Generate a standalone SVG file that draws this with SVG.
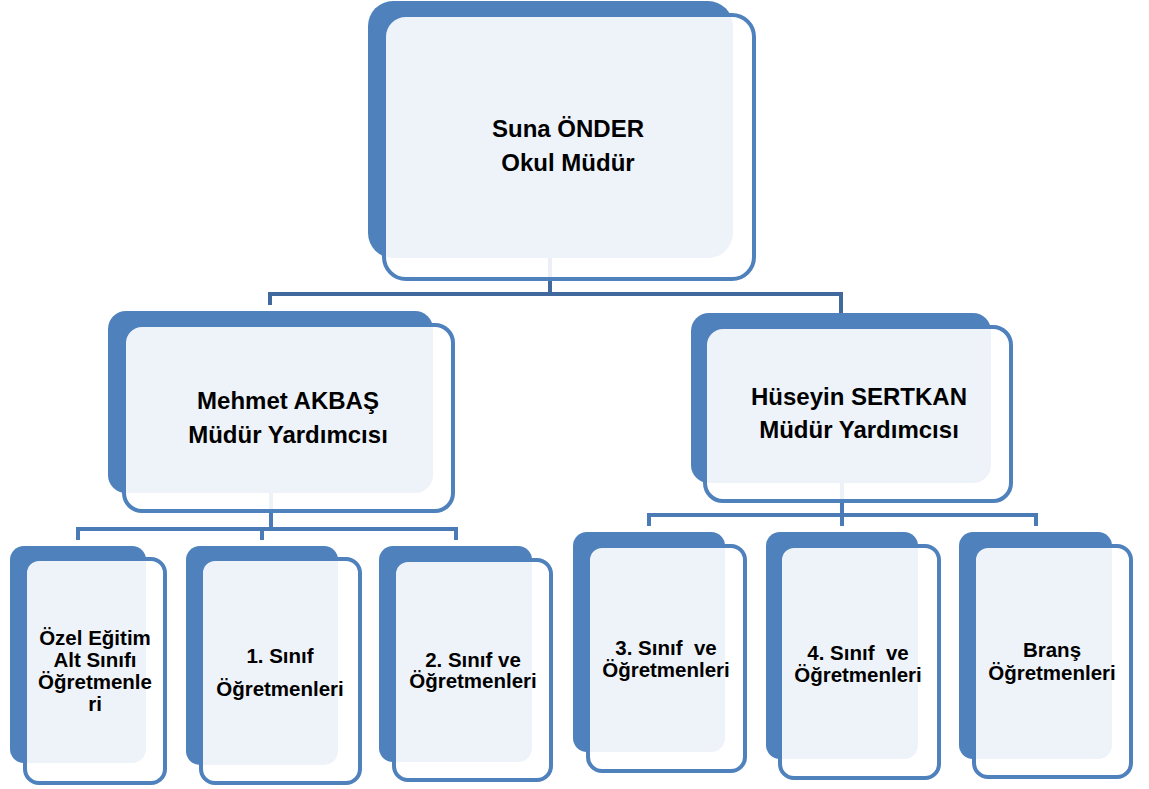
<svg xmlns="http://www.w3.org/2000/svg" width="1149" height="789" viewBox="0 0 1149 789">
<style>
.back{fill:#4F81BD}
.front{fill:#FFFFFF;fill-opacity:0.9;stroke:#4F81BD;stroke-width:4}
.c1{fill:none;stroke:#41699E;stroke-width:4}
.c2{fill:none;stroke:#4A7BB7;stroke-width:4}
text{font-family:"Liberation Sans",Arial,sans-serif;font-weight:bold;fill:#000;text-anchor:middle}
.big{font-size:24px}
.sm{font-size:20.5px}
</style>
<rect width="1149" height="789" fill="#FFFFFF"/>
<g id="connectors">
<path class="c1" d="M550,258 V294 M270,305 V294 H841 V313"/>
<path class="c2" d="M271,493 V529 M78,540 V529 H456 V540 M262,529 V540"/>
<path class="c2" d="M842,483 V515 M649,526 V515 H1036 V526 M842,515 V526"/>
</g>
<g id="n-suna">
<rect class="back" x="368" y="1" width="365" height="257" rx="25"/>
<rect class="front" x="384" y="15" width="370" height="264" rx="22"/>
<text class="big" x="568" y="137">Suna ÖNDER</text>
<text class="big" x="568" y="171">Okul Müdür</text>
</g>
<g id="n-mehmet">
<rect class="back" x="108" y="311" width="325" height="182" rx="18"/>
<rect class="front" x="124" y="325" width="329" height="186" rx="18"/>
<text class="big" x="288" y="409">Mehmet AKBAŞ</text>
<text class="big" x="288" y="443">Müdür Yardımcısı</text>
</g>
<g id="n-huseyin">
<rect class="back" x="691" y="313" width="300" height="170" rx="18"/>
<rect class="front" x="705" y="327" width="306" height="174" rx="18"/>
<text class="big" x="859" y="405">Hüseyin SERTKAN</text>
<text class="big" x="859" y="438">Müdür Yardımcısı</text>
</g>
<g id="n-ozel">
<rect class="back" x="10" y="546" width="136" height="217" rx="14"/>
<rect class="front" x="25" y="559" width="140" height="224" rx="14"/>
<text class="sm" x="95" y="645">Özel Eğitim</text>
<text class="sm" x="95" y="667">Alt Sınıfı</text>
<text class="sm" x="95" y="689">Öğretmenle</text>
<text class="sm" x="95" y="711">ri</text>
</g>
<g id="n-sinif1">
<rect class="back" x="186" y="546" width="152" height="219" rx="14"/>
<rect class="front" x="201" y="559" width="159" height="224" rx="14"/>
<text class="sm" x="280" y="663">1. Sınıf</text>
<text class="sm" x="280" y="696">Öğretmenleri</text>
</g>
<g id="n-sinif2">
<rect class="back" x="379" y="546" width="153" height="216" rx="14"/>
<rect class="front" x="394" y="560" width="157" height="220" rx="14"/>
<text class="sm" x="473" y="667">2. Sınıf ve</text>
<text class="sm" x="473" y="688">Öğretmenleri</text>
</g>
<g id="n-sinif3">
<rect class="back" x="573" y="532" width="152" height="220" rx="14"/>
<rect class="front" x="588" y="546" width="157" height="225" rx="14"/>
<text class="sm" x="666" y="655" xml:space="preserve">3. Sınıf  ve</text>
<text class="sm" x="666" y="677">Öğretmenleri</text>
</g>
<g id="n-sinif4">
<rect class="back" x="766" y="532" width="152" height="227" rx="14"/>
<rect class="front" x="780" y="546" width="159" height="232" rx="14"/>
<text class="sm" x="858" y="660" xml:space="preserve">4. Sınıf  ve</text>
<text class="sm" x="858" y="682">Öğretmenleri</text>
</g>
<g id="n-brans">
<rect class="back" x="959" y="532" width="153" height="227" rx="14"/>
<rect class="front" x="974" y="546" width="157" height="231" rx="14"/>
<text class="sm" x="1052" y="657">Branş</text>
<text class="sm" x="1052" y="680">Öğretmenleri</text>
</g>
</svg>
